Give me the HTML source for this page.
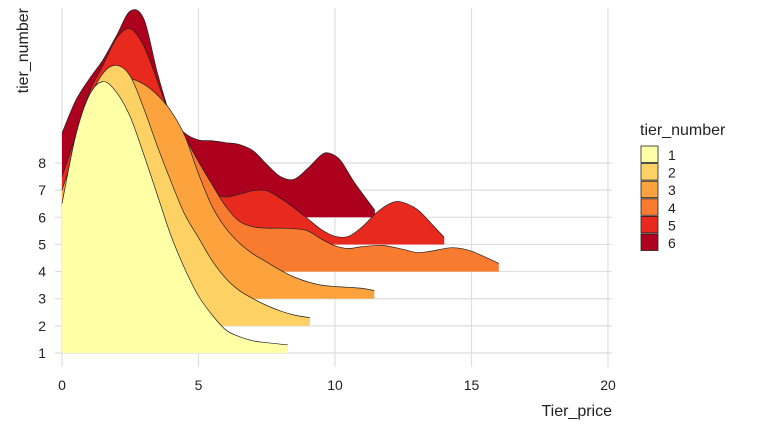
<!DOCTYPE html>
<html><head><meta charset="utf-8"><style>
body{margin:0;background:#fff;font-family:"Liberation Sans",Arial,sans-serif}
</style></head><body>
<svg id="c" width="768" height="432" xmlns="http://www.w3.org/2000/svg" font-family="Liberation Sans, Arial, sans-serif"></svg>
<script>
const categories=["1","2","3","4","5","6"];
const yTicks=[1,2,3,4,5,6,7,8];
const xTicks=[0,5,10,15,20];
const colors=["#FFFFA5","#FED165","#FCA33D","#F87B30","#E8291E","#AC001E"];
const s1x=[0,0.5,1,1.5,2,2.5,3,3.5,4,4.5,5,5.5,6,6.5,7,7.5,8.27];
const s1h=[5.5,8,9.5,10,9.6,8.7,7.3,5.8,4.3,3.1,2.1,1.4,0.85,0.6,0.45,0.38,0.3];
const s2x=[0,0.5,1,1.5,2,2.5,3,3.5,4,4.5,5,5.5,6,6.5,7,7.5,8,8.5,9.08];
const s2h=[4.4,6.5,8.3,9.3,9.6,9.2,8,6.6,5.3,4.1,3.25,2.4,1.75,1.3,1.0,0.75,0.55,0.4,0.3];
const s3x=[0,0.5,1,1.5,2,2.5,3,3.5,4,4.5,5,5.5,6,6.5,7,7.5,8,8.5,9,9.5,10,10.5,11,11.44];
const s3h=[4,5.5,6.8,7.6,8,8.1,7.9,7.5,6.9,6,4.6,3.4,2.6,2.05,1.65,1.35,1.05,0.8,0.62,0.5,0.45,0.42,0.38,0.3];
const s4x=[0,1,2,3,3.5,4,4.5,5,5.5,6,6.5,7,7.5,8,8.5,9,9.5,10,10.5,11,11.75,12.5,13,13.5,14.3,15,16];
const s4h=[3,5,6.3,6.7,6.5,5.8,4.95,4.05,3.2,2.4,1.85,1.65,1.6,1.6,1.58,1.5,1.2,0.95,0.85,0.92,0.96,0.82,0.7,0.75,0.88,0.75,0.3];
const s5x=[0,0.5,1,1.5,2,2.5,3,3.5,4,4.5,5,5.5,6,6.5,7,7.5,8,8.5,9,9.5,10,10.5,11,11.5,12,12.4,13,13.5,14];
const s5h=[2.5,4,5.6,6.6,7.6,7.95,7.3,6,4.6,3.3,2.4,1.9,1.75,1.85,1.98,1.98,1.7,1.35,0.95,0.55,0.3,0.3,0.65,1.15,1.5,1.57,1.3,0.8,0.26];
const s6x=[0,0.5,1,1.5,2,2.5,3,3.5,4,4.5,5,5.5,6,6.5,7,7.5,8,8.5,9,9.5,9.8,10.2,10.7,11.46];
const s6h=[3.1,4.3,5.1,5.8,6.7,7.6,7.3,5.3,3.7,3.1,2.85,2.82,2.75,2.68,2.45,1.95,1.5,1.4,1.8,2.3,2.36,2.1,1.3,0.26];
const seriesX=[s1x,s2x,s3x,s4x,s5x,s6x], seriesH=[s1h,s2h,s3h,s4h,s5h,s6h];

const NS="http://www.w3.org/2000/svg", svg=document.getElementById('c');
const X=v=>62+v*27.3, Y=v=>353-(v-1)*27.14;
function mk(t,a,p){const e=document.createElementNS(NS,t);for(const k in a)e.setAttribute(k,a[k]);(p||svg).appendChild(e);return e;}
yTicks.forEach(t=>{
 const l=mk('line',{x1:55,x2:612,y1:Y(t),y2:Y(t),stroke:'#dedede','stroke-width':1.2});
 
 
 const tx=mk('text',{x:46,y:Y(t)+5,'text-anchor':'end','font-size':14,fill:'#222'});tx.textContent=t;
 
 
});
xTicks.forEach(t=>{
 const l=mk('line',{x1:X(t),x2:X(t),y1:8,y2:367,stroke:'#dedede','stroke-width':1.2});
 
 
 const tx=mk('text',{x:X(t),y:390,'text-anchor':'middle','font-size':14,fill:'#222'});tx.textContent=t;
 
 
});
function path(xs,hs,base){
 const pts=xs.map((x,i)=>[X(x),base-hs[i]*27.14]);
 let d=`M${pts[0][0]},${base}L${pts[0][0]},${pts[0][1]}`, ln=`M${pts[0][0]},${pts[0][1]}`;
 for(let i=0;i<pts.length-1;i++){
  const p0=pts[Math.max(0,i-1)],p1=pts[i],p2=pts[i+1],p3=pts[Math.min(pts.length-1,i+2)];
  const c1=[p1[0]+(p2[0]-p0[0])/6,p1[1]+(p2[1]-p0[1])/6],c2=[p2[0]-(p3[0]-p1[0])/6,p2[1]-(p3[1]-p1[1])/6];
  const seg=`C${c1[0]},${c1[1]} ${c2[0]},${c2[1]} ${p2[0]},${p2[1]}`;d+=seg;ln+=seg;
 }
 d+=`L${pts[pts.length-1][0]},${base}Z`;return [d,ln];
}
for(let i=categories.length-1;i>=0;i--){
 const base=Y(i+1);const [d,ln]=path(seriesX[i],seriesH[i],base);
 const a=mk('path',{d:d,fill:colors[i],stroke:'none'});
 
 
 const l=mk('path',{d:ln,fill:'none',stroke:'#222','stroke-width':0.7});
 
 
}
let t=mk('text',{x:612,y:416,'text-anchor':'end','font-size':16,fill:'#222'});t.textContent='Tier_price';


t=mk('text',{x:0,y:0,transform:'translate(28,8) rotate(-90)','text-anchor':'end','font-size':16,fill:'#222'});t.textContent='tier_number';


t=mk('text',{x:640,y:135,'font-size':16,fill:'#222'});t.textContent='tier_number';


categories.forEach((c,i)=>{
 const g=mk('g',{});
 
 
 mk('rect',{x:641,y:146+i*17.6,width:17,height:16.5,fill:colors[i],stroke:'#222','stroke-width':0.8},g);
 const tx=mk('text',{x:668,y:160+i*17.6,'font-size':14,fill:'#222'},g);tx.textContent=c;
});
</script>
</body></html>
